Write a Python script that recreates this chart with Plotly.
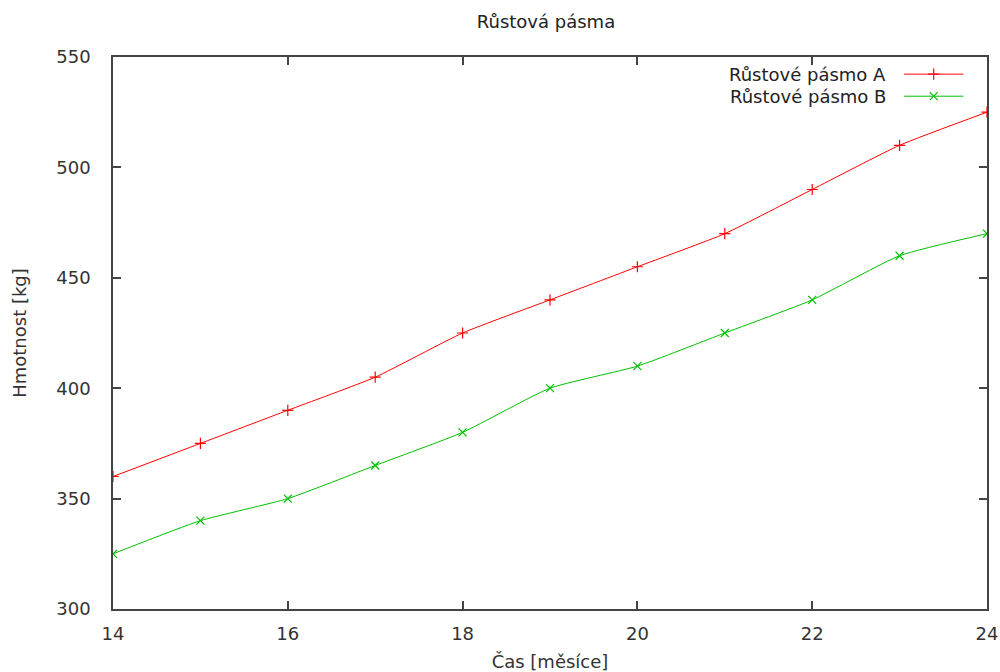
import plotly.graph_objects as go

months = [14, 15, 16, 17, 18, 19, 20, 21, 22, 23, 24]
band_a = [360, 375, 390, 405, 425, 440, 455, 470, 490, 510, 525]
band_b = [325, 340, 350, 365, 380, 400, 410, 425, 440, 460, 470]
names = ["Růstové pásmo A", "Růstové pásmo B"]
colors = ["#ff0000", "#00c000"]
symbols = ["cross-thin", "x-thin"]

FONT = "DejaVu Sans"
FS = 18
fig = go.Figure()
for ys, nm, c, s in zip([band_a, band_b], names, colors, symbols):
    fig.add_trace(go.Scatter(
        x=months, y=ys, mode="lines+markers", name=nm,
        line=dict(color=c, width=1, shape="spline", smoothing=0.5),
        marker=dict(symbol=s, size=8, line=dict(color=c, width=1.2), color=c),
        showlegend=False))

# custom gnuplot-like key (text right, sample on the right)
key_y = [0.969, 0.929]
for i, (nm, c, s) in enumerate(zip(names, colors, symbols)):
    fig.add_annotation(xref="paper", yref="paper", x=0.887, y=key_y[i],
                       text=nm, showarrow=False, xanchor="right", yanchor="middle",
                       font=dict(family=FONT, size=FS, color="#222222"))
    fig.add_shape(type="line", xref="paper", yref="paper",
                  x0=0.905, x1=0.973, y0=key_y[i], y1=key_y[i],
                  line=dict(color=c, width=1))
    fig.add_trace(go.Scatter(x=[0.939], y=[key_y[i]], xaxis="x2", yaxis="y2",
                             mode="markers", showlegend=False, hoverinfo="skip",
                             marker=dict(symbol=s, size=8, color=c,
                                         line=dict(color=c, width=1.2))))

axis_common = dict(showgrid=False, zeroline=False, showline=True, linecolor="#444444",
                   linewidth=1.5, mirror="allticks", ticks="inside", ticklen=8,
                   tickcolor="#444444", tickwidth=1.5, automargin=False,
                   tickfont=dict(family=FONT, size=FS, color="#333333"))

fig.update_layout(
    width=1000, height=672,
    margin=dict(l=113, r=13, t=57, b=63, autoexpand=False),
    paper_bgcolor="white", plot_bgcolor="white",
    title=dict(text="Růstová pásma", x=0.546, xanchor="center", y=0.967, yanchor="middle",
               font=dict(family=FONT, size=FS, color="#222222")),
    xaxis=dict(range=[14, 24], tickmode="array", tickvals=[14, 16, 18, 20, 22, 24],
               ticklabelstandoff=8,
               title=dict(text="Čas [měsíce]", standoff=13,
                          font=dict(family=FONT, size=FS, color="#333333")),
               **axis_common),
    yaxis=dict(range=[300, 550], tickmode="array",
               tickvals=[300, 350, 400, 450, 500, 550], ticklabelstandoff=17,
               title=dict(text="Hmotnost [kg]", standoff=25,
                          font=dict(family=FONT, size=FS, color="#333333")),
               **axis_common),
    xaxis2=dict(range=[0, 1], overlaying="x", visible=False, fixedrange=True),
    yaxis2=dict(range=[0, 1], overlaying="y", visible=False, fixedrange=True),
)

fig.write_html("out.html")
